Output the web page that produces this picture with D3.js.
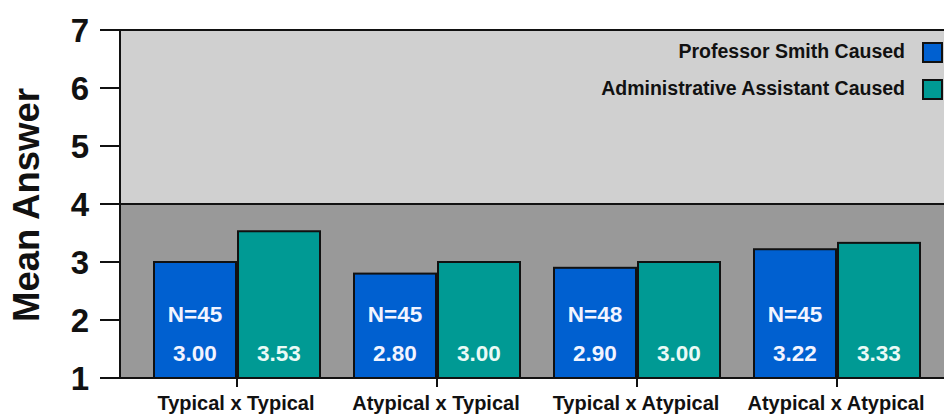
<!DOCTYPE html>
<html><head><meta charset="utf-8">
<script src="https://cdn.jsdelivr.net/npm/d3@7"></script>
<style>
body{margin:0;background:#fff;}
svg{display:block;font-family:"Liberation Sans",Arial,sans-serif;font-weight:bold;}
</style></head>
<body>
<svg id="c" width="944" height="414"></svg>
<script>
const categories = ["Typical x Typical","Atypical x Typical","Typical x Atypical","Atypical x Atypical"];
const seriesNames = ["Professor Smith Caused","Administrative Assistant Caused"];
const smithValues = [3.00, 2.80, 2.90, 3.22];
const assistantValues = [3.53, 3.00, 3.00, 3.33];
const smithN = [45, 45, 48, 45];
const yTicks = [1,2,3,4,5,6,7];
const colors = ["#0060d0","#009a94"];

(function(){
const svg = d3.select("#c");
const mLeft = 120, mRight = 960, mTop = 30, mBottom = 378;

const y = d3.scaleLinear().domain([1,7]).range([mBottom, mTop]);
const x0 = d3.scaleBand().domain(categories).range([137, 937]).paddingInner(0.17).paddingOuter(0.085);
const x1 = d3.scaleBand().domain([0,1]).range([0, x0.bandwidth()]).paddingInner(0.024);

// backgrounds
svg.append("rect").attr("x", mLeft).attr("y", y(7)).attr("width", mRight-mLeft).attr("height", y(4)-y(7)).attr("fill","#d0d0d0");
svg.append("rect").attr("x", mLeft).attr("y", y(4)).attr("width", mRight-mLeft).attr("height", y(1)-y(4)).attr("fill","#999999");
svg.append("line").attr("x1", mLeft).attr("x2", mRight).attr("y1", y(4)).attr("y2", y(4)).attr("stroke","#111").attr("stroke-width",2);

// bars
const data = categories.map((c,i)=>({c, vals:[smithValues[i], assistantValues[i]], n:smithN[i]}));
const g = svg.selectAll("g.grp").data(data).join("g").attr("class","grp").attr("transform", d=>`translate(${x0(d.c)},0)`);
g.selectAll("rect").data(d=>d.vals.map((v,k)=>({v,k}))).join("rect")
  .attr("x", d=>x1(d.k)).attr("width", x1.bandwidth())
  .attr("y", d=>y(d.v)).attr("height", d=>y(1)-y(d.v))
  .attr("fill", d=>colors[d.k]).attr("stroke","#111").attr("stroke-width",2);
g.selectAll("text.val").data(d=>d.vals.map((v,k)=>({v,k}))).join("text").attr("class","val")
  .attr("x", d=>x1(d.k)+x1.bandwidth()/2).attr("y", 361).attr("text-anchor","middle")
  .attr("fill", d=>d.k===0?"#f2f4ff":"#eafaf6").attr("font-size",22.5).text(d=>d.v.toFixed(2));
g.append("text").attr("x", x1(0)+x1.bandwidth()/2).attr("y", 322).attr("text-anchor","middle")
  .attr("fill","#f2f4ff").attr("font-size",22.5).text(d=>"N="+d.n);

// axes lines
svg.append("line").attr("x1", 100).attr("x2", mRight).attr("y1", y(7)).attr("y2", y(7)).attr("stroke","#111").attr("stroke-width",2);
svg.append("line").attr("x1", 100).attr("x2", mRight).attr("y1", y(1)).attr("y2", y(1)).attr("stroke","#111").attr("stroke-width",2);
svg.append("line").attr("x1", mLeft).attr("x2", mLeft).attr("y1", y(7)).attr("y2", y(1)).attr("stroke","#111").attr("stroke-width",2);

// y ticks
const yAxis = svg.append("g");
yTicks.forEach(t=>{
  yAxis.append("line").attr("x1",100).attr("x2",mLeft).attr("y1",y(t)).attr("y2",y(t)).attr("stroke","#111").attr("stroke-width",2);
  yAxis.append("text").attr("x",89).attr("y",y(t)+12).attr("text-anchor","end").attr("font-size",33).attr("fill","#111").text(t);
});
svg.append("text").attr("transform",`translate(39,205) rotate(-90)`).attr("text-anchor","middle")
  .attr("font-size",36.5).attr("fill","#111").text("Mean Answer");

// x ticks
categories.forEach(c=>{
  const cx = x0(c)+x0.bandwidth()/2;
  svg.append("line").attr("x1",cx).attr("x2",cx).attr("y1",y(1)).attr("y2",387).attr("stroke","#111").attr("stroke-width",2);
  svg.append("text").attr("x",cx-1).attr("y",410).attr("text-anchor","middle").attr("font-size",20).attr("fill","#111").text(c);
});

// legend
seriesNames.forEach((s,i)=>{
  const yy = 43 + i*37;
  svg.append("rect").attr("x",923).attr("y",yy).attr("width",19).attr("height",19).attr("fill",colors[i]).attr("stroke","#111").attr("stroke-width",2);
  svg.append("text").attr("x",905).attr("y",yy+15).attr("text-anchor","end").attr("font-size",19.5).attr("fill","#111").text(s);
});
})();
</script>
</body></html>
